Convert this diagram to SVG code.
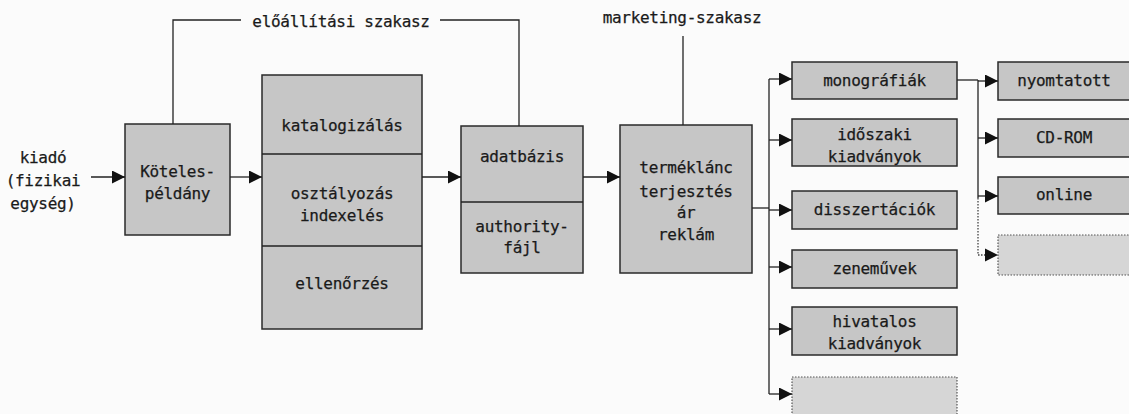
<svg xmlns="http://www.w3.org/2000/svg" width="1129" height="414" viewBox="0 0 1129 414">
<defs>
<marker id="ah" viewBox="0 0 13 13" refX="13" refY="6.5" markerWidth="13" markerHeight="13" markerUnits="userSpaceOnUse" orient="auto">
<path d="M0,0 L13,6.5 L0,13 Z" fill="#111"/>
</marker>
</defs>
<style>
text{font-family:"DejaVu Sans Mono","Liberation Mono",monospace;font-size:16px;letter-spacing:-0.3px;fill:#1a1a1a;stroke:#1a1a1a;stroke-width:0.25;text-anchor:middle}
.box{fill:#c6c6c6;stroke:#2a2a2a;stroke-width:1.5}
.blank{fill:#d6d6d6;stroke:#555;stroke-width:1.2;stroke-dasharray:1.5 1.5}
.ln{fill:none;stroke:#222;stroke-width:1.3}
.arr{fill:none;stroke:#222;stroke-width:1.3;marker-end:url(#ah)}
.dot{fill:none;stroke:#444;stroke-width:1.3;stroke-dasharray:1.5 1.5}
</style>
<rect width="1129" height="414" fill="#fbfbfb"/>

<g id="phase-labels">
<text x="341" y="27">előállítási szakasz</text>
<text x="682" y="23">marketing-szakasz</text>
</g>

<g id="kiado">
<text x="43" y="163">kiadó</text>
<text x="43" y="186">(fizikai</text>
<text x="43" y="209">egység)</text>
</g>

<g id="koteles">
<rect class="box" x="125" y="124" width="105" height="111"/>
<text x="177.5" y="177">Köteles-</text>
<text x="177.5" y="199">példány</text>
</g>

<g id="feldolgozas">
<rect class="box" x="262" y="75" width="160" height="254"/>
<line class="ln" x1="262" y1="154" x2="422" y2="154"/>
<line class="ln" x1="262" y1="246" x2="422" y2="246"/>
<text x="342" y="131">katalogizálás</text>
<text x="342" y="199">osztályozás</text>
<text x="342" y="221">indexelés</text>
<text x="342" y="289">ellenőrzés</text>
</g>

<g id="adatbazis">
<rect class="box" x="461" y="126" width="122" height="147"/>
<line class="ln" x1="461" y1="202" x2="583" y2="202"/>
<text x="522" y="162">adatbázis</text>
<text x="522" y="232">authority-</text>
<text x="522" y="253">fájl</text>
</g>

<g id="termeklanc">
<rect class="box" x="620" y="125" width="132" height="148"/>
<text x="686" y="173">terméklánc</text>
<text x="686" y="197">terjesztés</text>
<text x="686" y="218">ár</text>
<text x="686" y="240">reklám</text>
</g>

<g id="monografiak">
<rect class="box" x="792" y="62" width="165" height="37"/>
<text x="874.5" y="86">monográfiák</text>
</g>
<g id="idoszaki">
<rect class="box" x="792" y="119" width="165" height="47"/>
<text x="874.5" y="140">időszaki</text>
<text x="874.5" y="162">kiadványok</text>
</g>
<g id="disszertaciok">
<rect class="box" x="792" y="191" width="165" height="38"/>
<text x="874.5" y="215">disszertációk</text>
</g>
<g id="zenemuvek">
<rect class="box" x="792" y="250" width="165" height="38"/>
<text x="874.5" y="274">zeneművek</text>
</g>
<g id="hivatalos">
<rect class="box" x="792" y="307" width="165" height="48"/>
<text x="874.5" y="327">hivatalos</text>
<text x="874.5" y="349">kiadványok</text>
</g>
<g id="ures1">
<rect class="blank" x="792" y="377" width="165" height="45"/>
</g>

<g id="nyomtatott">
<rect class="box" x="998" y="62" width="134" height="38"/>
<text x="1064" y="86">nyomtatott</text>
</g>
<g id="cdrom">
<rect class="box" x="998" y="119" width="134" height="38"/>
<text x="1064" y="143">CD-ROM</text>
</g>
<g id="online">
<rect class="box" x="998" y="177" width="134" height="37"/>
<text x="1064" y="200">online</text>
</g>
<g id="ures2">
<rect class="blank" x="998" y="235" width="134" height="40"/>
</g>

<g id="connectors">
<polyline class="ln" points="173,124 173,20 241,20"/>
<polyline class="ln" points="440,20 519,20 519,126"/>
<line class="ln" x1="683" y1="36" x2="683" y2="125"/>
<line class="arr" x1="91" y1="177" x2="125" y2="177"/>
<line class="arr" x1="230" y1="177" x2="262" y2="177"/>
<line class="arr" x1="422" y1="177" x2="461" y2="177"/>
<line class="arr" x1="583" y1="177" x2="620" y2="177"/>
<line class="ln" x1="752" y1="208" x2="769" y2="208"/>
<line class="ln" x1="769" y1="79" x2="769" y2="394"/>
<line class="arr" x1="769" y1="79" x2="792" y2="79"/>
<line class="arr" x1="769" y1="140" x2="792" y2="140"/>
<line class="arr" x1="769" y1="210" x2="792" y2="210"/>
<line class="arr" x1="769" y1="267" x2="792" y2="267"/>
<line class="arr" x1="769" y1="329" x2="792" y2="329"/>
<line class="arr" x1="769" y1="394" x2="792" y2="394"/>
<line class="ln" x1="957" y1="80" x2="978" y2="80"/>
<line class="ln" x1="978" y1="80" x2="978" y2="198"/>
<line class="dot" x1="978" y1="198" x2="978" y2="255"/>
<line class="arr" x1="978" y1="81" x2="998" y2="81"/>
<line class="arr" x1="978" y1="138" x2="998" y2="138"/>
<line class="arr" x1="978" y1="196" x2="998" y2="196"/>
<line class="dot" x1="978" y1="255" x2="986" y2="255"/>
<path d="M985,248.5 L998,255 L985,261.5 Z" fill="#111"/>
</g>
</svg>
